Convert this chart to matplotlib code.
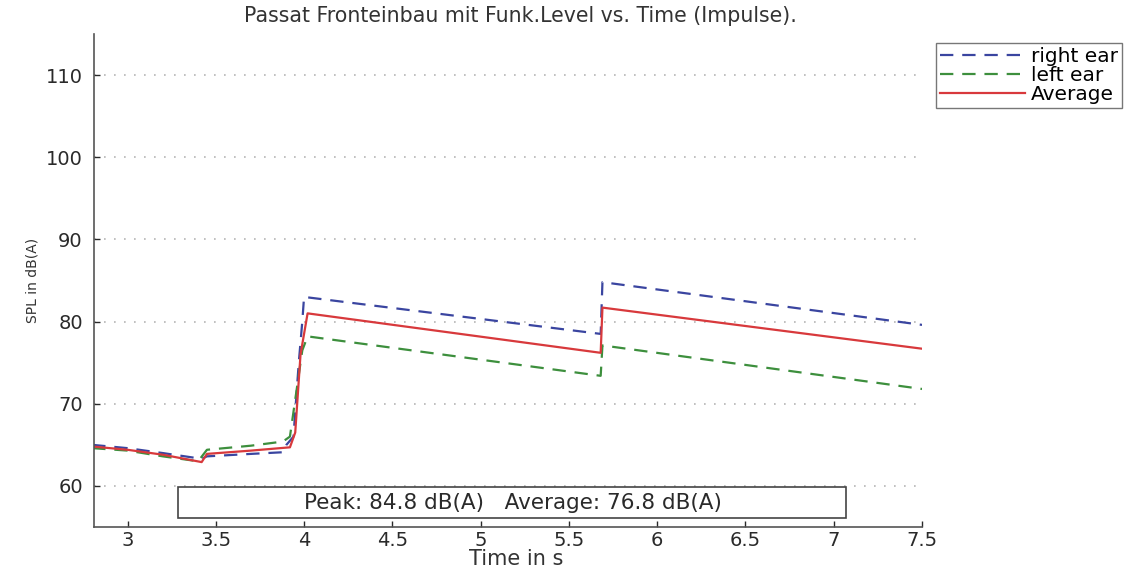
import matplotlib
matplotlib.use("Agg")
import matplotlib.pyplot as plt
from matplotlib.patches import Rectangle

plt.rcParams['font.family'] = ['DejaVu Sans']

# data
t_right = [2.8, 3.0, 3.2, 3.42, 3.45, 3.7, 3.88, 3.9, 3.94, 3.97, 3.99, 4.0, 5.68, 5.69, 7.5]
spl_right = [65.0, 64.6, 64.0, 63.3, 63.6, 63.9, 64.1, 65.0, 66.0, 75.0, 80.0, 83.0, 78.5, 84.8, 79.6]

t_left = [2.8, 3.0, 3.2, 3.4, 3.45, 3.7, 3.88, 3.92, 3.96, 3.99, 4.02, 5.68, 5.69, 7.5]
spl_left = [64.6, 64.3, 63.6, 63.0, 64.4, 64.9, 65.4, 66.0, 72.0, 76.5, 78.2, 73.4, 77.1, 71.8]

t_avg = [2.8, 3.0, 3.2, 3.42, 3.45, 3.7, 3.92, 3.95, 3.98, 4.02, 5.68, 5.69, 7.5]
spl_avg = [64.8, 64.4, 63.8, 62.9, 63.9, 64.3, 64.7, 66.5, 76.0, 81.0, 76.2, 81.7, 76.7]

peak = 84.8
average = 76.8

fig = plt.figure(figsize=(11.32, 5.7), dpi=100)
ax = fig.add_axes([0.083, 0.0754, 0.7315, 0.865])

ax.plot(t_right, spl_right, color="#3a45a0", lw=1.6, dashes=(6, 4), label="right ear")
ax.plot(t_left, spl_left, color="#3d8f3d", lw=1.6, dashes=(6, 4), label="left ear")
ax.plot(t_avg, spl_avg, color="#d8393c", lw=1.6, label="Average")

ax.set_xlim(2.81, 7.5)
ax.set_ylim(55, 115)
ax.set_xticks([3, 3.5, 4, 4.5, 5, 5.5, 6, 6.5, 7, 7.5])
ax.set_xticklabels(["3", "3.5", "4", "4.5", "5", "5.5", "6", "6.5", "7", "7.5"])
ax.set_yticks([60, 70, 80, 90, 100, 110])
ax.tick_params(direction="in", length=4, labelsize=14, colors="#2a2a2a", width=1)
ax.tick_params(axis="x", pad=3)
ax.tick_params(axis="y", pad=8)
ax.yaxis.grid(True, linestyle=(0, (1, 5)), color="#b5b5b5", lw=1.2)
for s in ["top", "right"]:
    ax.spines[s].set_visible(False)
for s in ["left", "bottom"]:
    ax.spines[s].set_color("#555555")
    ax.spines[s].set_linewidth(1.2)

ax.set_title("Passat Fronteinbau mit Funk.Level vs. Time (Impulse).", fontsize=14.8, color="#333333",
             pad=0, y=1.024, x=0.5145)
ax.set_xlabel("Time in s", fontsize=15, color="#333333")
ax.xaxis.set_label_coords(0.51, -0.044)
ax.set_ylabel("SPL in dB(A)", fontsize=10, color="#333333")
ax.yaxis.set_label_coords(-0.066, 0.5)

# info box
ax.add_patch(Rectangle((0.1014, 0.018), 0.8066, 0.063, transform=ax.transAxes,
                       facecolor="white", edgecolor="#444444", lw=1.2, zorder=5))
ax.text(0.506, 0.049, "Peak: %.1f dB(A)   Average: %.1f dB(A)" % (peak, average),
        transform=ax.transAxes, ha="center", va="center", fontsize=15.5, color="#2a2a2a", zorder=6)

fig.legend(loc="upper left", bbox_to_anchor=(0.827, 0.925), fontsize=14.5, frameon=True,
           fancybox=False, edgecolor="#555555", handlelength=4.2, handletextpad=0.3,
           borderpad=0.2, labelspacing=0.0, borderaxespad=0)

fig.savefig("out.png", dpi=100)
